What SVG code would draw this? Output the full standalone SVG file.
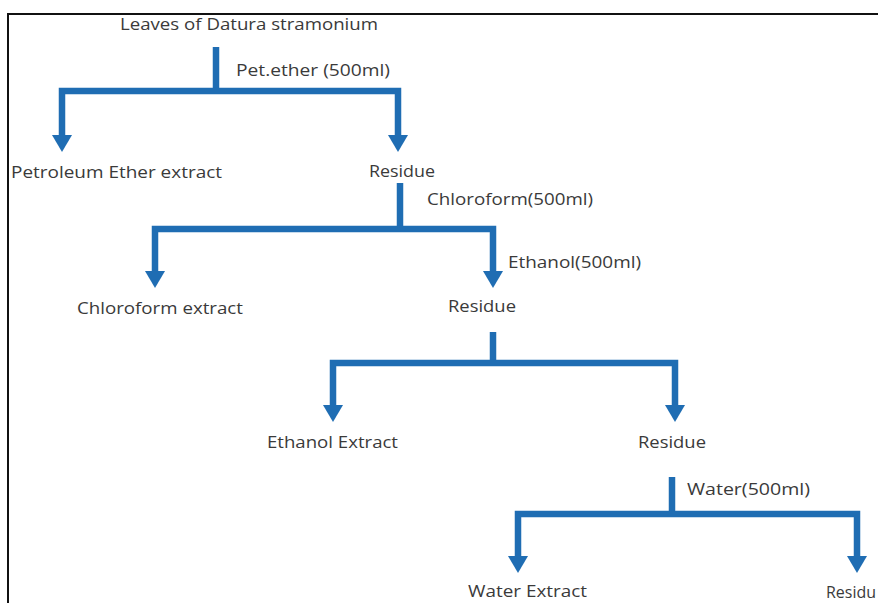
<svg xmlns="http://www.w3.org/2000/svg" width="878" height="603" viewBox="0 0 878 603">
  <style>
    text { font-family: "Open Sans", "Liberation Sans", sans-serif; font-size: 16.5px; fill: #3a3a3a; }
    .ln { fill: none; stroke: #1f6db3; stroke-width: 6.5; stroke-linejoin: miter; }
    .ah { fill: #1f6db3; }
  </style>
  <rect x="0" y="0" width="878" height="603" fill="#ffffff"/>
  <rect x="8" y="14" width="900" height="620" fill="none" stroke="#111111" stroke-width="2"/>
  <g id="connectors">
    <path class="ln" d="M216 47 V91"/>
    <path class="ln" d="M62 136 V91 H398 V136"/>
    <polygon class="ah" points="52,135 72,135 62,152"/>
    <polygon class="ah" points="388,135 408,135 398,152"/>

    <path class="ln" d="M400 183 V229"/>
    <path class="ln" d="M155 272 V229 H493 V272"/>
    <polygon class="ah" points="145,271 165,271 155,288"/>
    <polygon class="ah" points="483,271 503,271 493,288"/>

    <path class="ln" d="M493 332 V363"/>
    <path class="ln" d="M333 406 V363 H675 V406"/>
    <polygon class="ah" points="323,405 343,405 333,422"/>
    <polygon class="ah" points="665,405 685,405 675,422"/>

    <path class="ln" d="M672 477 V514"/>
    <path class="ln" d="M518 557 V514 H857 V557"/>
    <polygon class="ah" points="508,556 528,556 518,573"/>
    <polygon class="ah" points="847,556 867,556 857,573"/>
  </g>
  <g id="n-leaves"><text x="120" y="30" textLength="258" lengthAdjust="spacingAndGlyphs">Leaves of Datura stramonium</text></g>
  <g id="l-petether"><text x="236" y="76" textLength="154" lengthAdjust="spacingAndGlyphs">Pet.ether (500ml)</text></g>
  <g id="n-petext"><text x="11" y="178" textLength="211" lengthAdjust="spacingAndGlyphs">Petroleum Ether extract</text></g>
  <g id="n-res1"><text x="369" y="177" textLength="66" lengthAdjust="spacingAndGlyphs">Residue</text></g>
  <g id="l-chloro"><text x="427" y="205" textLength="166" lengthAdjust="spacingAndGlyphs">Chloroform(500ml)</text></g>
  <g id="n-chloroext"><text x="77" y="314" textLength="166" lengthAdjust="spacingAndGlyphs">Chloroform extract</text></g>
  <g id="l-ethanol"><text x="508" y="268" textLength="133" lengthAdjust="spacingAndGlyphs">Ethanol(500ml)</text></g>
  <g id="n-res2"><text x="448" y="312" textLength="68" lengthAdjust="spacingAndGlyphs">Residue</text></g>
  <g id="n-ethext"><text x="267" y="448" textLength="131" lengthAdjust="spacingAndGlyphs">Ethanol Extract</text></g>
  <g id="n-res3"><text x="638" y="448" textLength="68" lengthAdjust="spacingAndGlyphs">Residue</text></g>
  <g id="l-water"><text x="687" y="495" textLength="123" lengthAdjust="spacingAndGlyphs">Water(500ml)</text></g>
  <g id="n-waterext"><text x="468" y="597" textLength="119" lengthAdjust="spacingAndGlyphs">Water Extract</text></g>
  <g id="n-res4"><text x="826" y="598" textLength="50" lengthAdjust="spacingAndGlyphs">Residu</text></g>
</svg>
